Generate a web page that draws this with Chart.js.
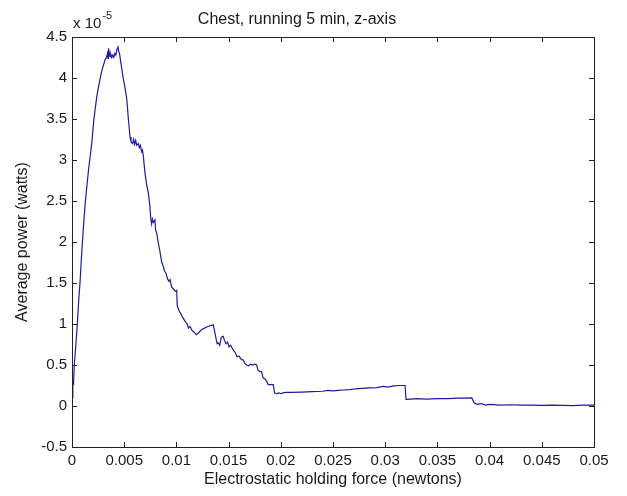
<!DOCTYPE html>
<html>
<head>
<meta charset="utf-8">
<script src="https://cdn.jsdelivr.net/npm/chart.js@4"></script>
<style>
  html, body { margin: 0; padding: 0; background: #fff; }
</style>
</head>
<body>
<canvas id="grafico" width="627" height="496"></canvas>
<script>
// datos (fuerza en N, potencia en unidades de 1e-5 W)
const fuerza = [
  0.00003, 0.00008, 0.00015, 0.00022, 0.00035, 0.00050, 0.00065, 0.00077, 0.00090, 0.00105,
  0.00125, 0.00140, 0.00160, 0.00189, 0.00210, 0.00237, 0.00255, 0.00284, 0.00300, 0.00316,
  0.00330, 0.00340, 0.00345, 0.00350, 0.00357, 0.00365, 0.00372, 0.00380, 0.00390, 0.00400,
  0.00410, 0.00420, 0.00430, 0.00440, 0.00448, 0.00455, 0.00466, 0.00476, 0.00490, 0.00505,
  0.00524, 0.00540, 0.00556, 0.00565, 0.00580, 0.00590, 0.00600, 0.00610, 0.00620, 0.00635,
  0.00645, 0.00655, 0.00668, 0.00675, 0.00683, 0.00699, 0.00715, 0.00731, 0.00745, 0.00755,
  0.00763, 0.00770, 0.00780, 0.00795, 0.00800, 0.00811, 0.00825, 0.00840, 0.00860, 0.00875,
  0.00885, 0.00900, 0.00915, 0.00930, 0.00939, 0.00955, 0.00970, 0.00990, 0.01003, 0.01008,
  0.01018, 0.01030, 0.01045, 0.01060, 0.01075, 0.01090, 0.01105, 0.01115, 0.01130, 0.01150,
  0.01170, 0.01190, 0.01210, 0.01240, 0.01270, 0.01300, 0.01330, 0.01353, 0.01365, 0.01380,
  0.01390, 0.01401, 0.01415, 0.01430, 0.01449, 0.01460, 0.01475, 0.01490, 0.01505, 0.01520,
  0.01545, 0.01565, 0.01580, 0.01600, 0.01620, 0.01640, 0.01655, 0.01673, 0.01690, 0.01710,
  0.01730, 0.01750, 0.01769, 0.01780, 0.01800, 0.01815, 0.01832, 0.01850, 0.01865, 0.01880,
  0.01900, 0.01928, 0.01940, 0.01960, 0.01980, 0.02000, 0.02020, 0.02050, 0.02100, 0.02200,
  0.02300, 0.02400, 0.02450, 0.02500, 0.02550, 0.02600, 0.02660, 0.02720, 0.02780, 0.02850,
  0.02920, 0.02980, 0.03030, 0.03080, 0.03130, 0.03190, 0.03200, 0.03250, 0.03300, 0.03400,
  0.03500, 0.03600, 0.03700, 0.03830, 0.03850, 0.03880, 0.03920, 0.03960, 0.04000, 0.04100,
  0.04200, 0.04300, 0.04400, 0.04500, 0.04600, 0.04700, 0.04800, 0.04900, 0.05000
];
const potencia = [
  0.10, 0.30, 0.28, 0.50, 0.72, 0.98, 1.30, 1.51, 1.80, 2.10,
  2.45, 2.65, 2.90, 3.20, 3.50, 3.77, 3.90, 4.08, 4.15, 4.22,
  4.25, 4.30, 4.24, 4.36, 4.31, 4.26, 4.29, 4.25, 4.28, 4.25,
  4.30, 4.28, 4.35, 4.38, 4.32, 4.30, 4.20, 4.12, 4.00, 3.90,
  3.75, 3.50, 3.28, 3.22, 3.20, 3.25, 3.19, 3.24, 3.18, 3.20,
  3.15, 3.18, 3.10, 3.12, 3.05, 2.84, 2.70, 2.60, 2.45, 2.28,
  2.22, 2.28, 2.24, 2.27, 2.15, 2.11, 2.00, 1.90, 1.75, 1.70,
  1.65, 1.62, 1.55, 1.52, 1.54, 1.45, 1.43, 1.40, 1.41, 1.22,
  1.19, 1.15, 1.12, 1.08, 1.05, 1.02, 1.00, 0.95, 0.97, 0.92,
  0.90, 0.87, 0.89, 0.93, 0.95, 0.97, 0.98, 0.99, 0.92, 0.82,
  0.76, 0.77, 0.74, 0.84, 0.85, 0.80, 0.76, 0.78, 0.72, 0.74,
  0.68, 0.65, 0.60, 0.61, 0.57, 0.56, 0.52, 0.50, 0.49, 0.51,
  0.50, 0.51, 0.50, 0.44, 0.42, 0.42, 0.34, 0.33, 0.30, 0.26,
  0.26, 0.26, 0.16, 0.15, 0.16, 0.15, 0.16, 0.165, 0.165, 0.17,
  0.175, 0.18, 0.19, 0.185, 0.19, 0.195, 0.20, 0.21, 0.215, 0.22,
  0.225, 0.24, 0.23, 0.245, 0.25, 0.25, 0.08, 0.085, 0.09, 0.085,
  0.09, 0.09, 0.095, 0.10, 0.04, 0.02, 0.03, 0.01, 0.02, 0.01,
  0.015, 0.01, 0.01, 0.008, 0.01, 0.008, 0.005, 0.01, 0.01
];

// marcas de los ejes
const xTicks = [0, 0.005, 0.01, 0.015, 0.02, 0.025, 0.03, 0.035, 0.04, 0.045, 0.05];
const xTickLabels = ['0', '0.005', '0.01', '0.015', '0.02', '0.025', '0.03', '0.035', '0.04', '0.045', '0.05'];
const yTicks = [-0.5, 0, 0.5, 1, 1.5, 2, 2.5, 3, 3.5, 4, 4.5];
const yTickLabels = ['-0.5', '0', '0.5', '1', '1.5', '2', '2.5', '3', '3.5', '4', '4.5'];

const fuente = '"Liberation Sans", Arial, sans-serif';
const colorTexto = '#1a1a1a';

// caja estilo matlab con marcas hacia adentro y el factor x 10^-5
const cajaMatlab = {
  id: 'cajaMatlab',
  afterDraw(chart) {
    const { ctx, chartArea: a, scales } = chart;
    ctx.save();
    ctx.strokeStyle = '#222';
    ctx.lineWidth = 1;
    ctx.strokeRect(Math.round(a.left) + 0.5, Math.round(a.top) + 0.5,
      Math.round(a.right - a.left), Math.round(a.bottom - a.top));
    ctx.beginPath();
    const largo = 5;
    scales.x.ticks.forEach(t => {
      const px = Math.round(scales.x.getPixelForValue(t.value)) + 0.5;
      ctx.moveTo(px, a.bottom); ctx.lineTo(px, a.bottom - largo);
      ctx.moveTo(px, a.top); ctx.lineTo(px, a.top + largo);
    });
    scales.y.ticks.forEach(t => {
      const py = Math.round(scales.y.getPixelForValue(t.value)) + 0.5;
      ctx.moveTo(a.left, py); ctx.lineTo(a.left + largo, py);
      ctx.moveTo(a.right, py); ctx.lineTo(a.right - largo, py);
    });
    ctx.stroke();

    ctx.fillStyle = colorTexto;
    ctx.textBaseline = 'alphabetic';
    ctx.textAlign = 'left';
    ctx.font = '15px ' + fuente;
    const base = 'x 10';
    ctx.fillText(base, a.left + 1, 28);
    const ancho = ctx.measureText(base).width;
    ctx.font = '11px ' + fuente;
    ctx.fillText('-5', a.left + ancho + 2, 19);
    ctx.restore();
  }
};

const ctx = document.getElementById('grafico').getContext('2d');
const chart = new Chart(ctx, {
  type: 'line',
  data: {
    datasets: [{
      label: 'potencia',
      data: fuerza.map((f, i) => ({ x: f, y: potencia[i] })),
      borderColor: '#1c1c9c',
      borderWidth: 1.2,
      pointRadius: 0,
      tension: 0,
      fill: false
    }]
  },
  options: {
    responsive: false,
    animation: false,
    layout: { padding: { top: 0, right: 33, bottom: 0, left: 0 } },
    plugins: {
      legend: { display: false },
      tooltip: { enabled: false },
      title: {
        display: true,
        text: 'Chest, running 5 min, z-axis',
        color: colorTexto,
        font: { family: fuente, size: 16, weight: 'normal', lineHeight: 1.2 },
        padding: { top: 10.4, bottom: 7.4 }
      }
    },
    scales: {
      x: {
        type: 'linear',
        min: 0,
        max: 0.05,
        afterBuildTicks: s => { s.ticks = xTicks.map(v => ({ value: v })); },
        afterFit: s => { s.height = 49; },
        grid: { display: false, drawTicks: false },
        border: { display: false },
        ticks: {
          color: colorTexto,
          padding: 5,
          maxRotation: 0,
          autoSkip: false,
          font: { family: fuente, size: 15 },
          callback: (v, i) => xTickLabels[i]
        },
        title: {
          display: true,
          text: 'Electrostatic holding force (newtons)',
          color: colorTexto,
          font: { family: fuente, size: 16, lineHeight: 1.2 },
          padding: { top: 0, bottom: 6.4 }
        }
      },
      y: {
        type: 'linear',
        min: -0.5,
        max: 4.5,
        afterBuildTicks: s => { s.ticks = yTicks.map(v => ({ value: v })); },
        afterFit: s => { s.width = 72; },
        grid: { display: false, drawTicks: false },
        border: { display: false },
        ticks: {
          color: colorTexto,
          padding: 5,
          autoSkip: false,
          font: { family: fuente, size: 15 },
          callback: (v, i) => yTickLabels[i]
        },
        title: {
          display: true,
          text: 'Average power (watts)',
          color: colorTexto,
          font: { family: fuente, size: 16, lineHeight: 1.2 },
          padding: { top: 13.4, bottom: 0 }
        }
      }
    }
  },
  plugins: [cajaMatlab]
});
</script>
</body>
</html>
